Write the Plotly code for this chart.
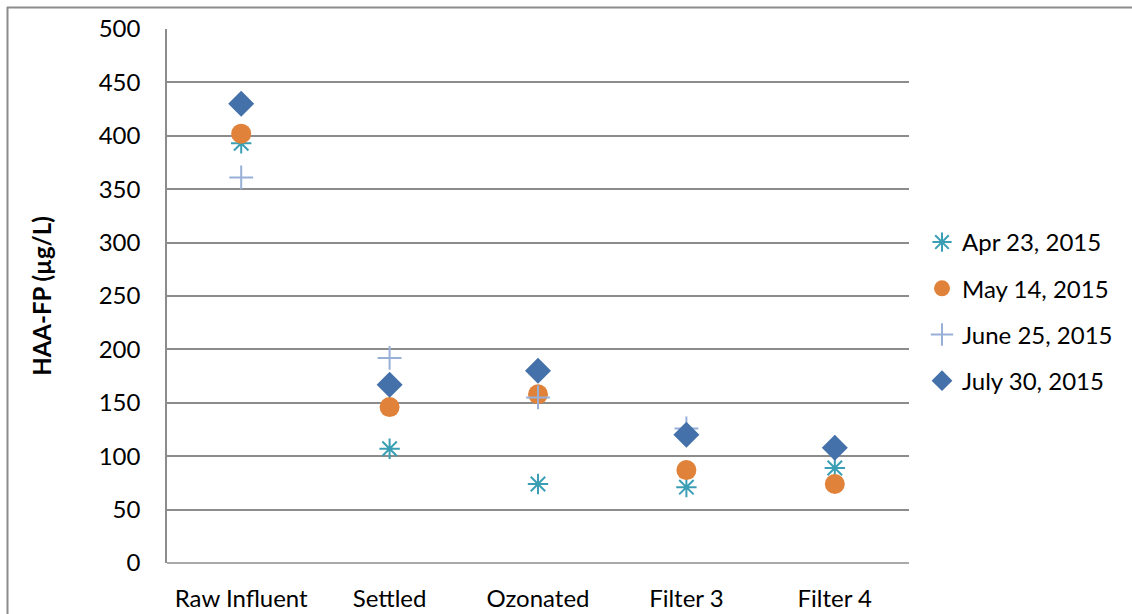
import plotly.graph_objects as go

categories = ["Raw Influent", "Settled", "Ozonated", "Filter 3", "Filter 4"]
apr_23 = [393, 107, 74, 71, 89]
may_14 = [402, 146, 158, 87, 74]
jun_25 = [361, 192, 155, 126, 108]
jul_30 = [430, 167, 180, 120, 108]
y_ticks = [0, 50, 100, 150, 200, 250, 300, 350, 400, 450, 500]

FONT = "Lato, Liberation Sans, sans-serif"
FS = 24

series = [
    ("Apr 23, 2015", apr_23, dict(symbol="asterisk-open", size=17, color="#3A9FB4", line=dict(width=2, color="#3A9FB4"))),
    ("May 14, 2015", may_14, dict(symbol="circle", size=20, color="#E0823A", line=dict(width=0))),
    ("June 25, 2015", jun_25, dict(symbol="cross-thin-open", size=17, color="#98B0D8", line=dict(width=2, color="#98B0D8"))),
    ("July 30, 2015", jul_30, dict(symbol="diamond", size=20, color="#4471A9", line=dict(width=0))),
]

fig = go.Figure()
for name, vals, marker in series:
    fig.add_trace(go.Scatter(x=categories, y=vals, mode="markers", name=name,
                             marker=marker, legendgroup=name))

W, H = 1132, 614
L, R, T, B = 167, 223, 29, 51
pw, ph = W - L - R, H - T - B

def px_x(p):
    return (p - L) / pw

def px_y(p):
    return (H - B - p) / ph

fig.update_layout(
    width=W, height=H,
    margin=dict(l=L, r=R, t=T, b=B, autoexpand=False),
    paper_bgcolor="white", plot_bgcolor="white",
    font=dict(family=FONT, size=FS, color="#000000"),
    showlegend=True,
    legend=dict(x=px_x(922), y=px_y(220), xanchor="left", yanchor="top",
                font=dict(size=FS, family=FONT), tracegroupgap=12,
                bgcolor="rgba(0,0,0,0)"),
    xaxis=dict(range=[-0.5, 4.5], showgrid=False, zeroline=False, automargin=False,
               showline=False, ticks="outside", ticklen=14, tickcolor="rgba(0,0,0,0)",
               tickfont=dict(size=FS, family=FONT)),
    yaxis=dict(range=[0, 500], tickvals=y_ticks, showgrid=True, automargin=False,
               gridcolor="#8C8C8C", gridwidth=1.5, zeroline=False,
               showline=True, linecolor="#8C8C8C", linewidth=1.5,
               ticks="outside", ticklen=20, tickcolor="rgba(0,0,0,0)",
               tickfont=dict(size=FS, family=FONT),
               title=dict(text="<b>HAA-FP (µg/L)</b>", font=dict(size=FS, family=FONT), standoff=40)),
    shapes=[
        dict(type="line", xref="paper", yref="paper", x0=px_x(7), x1=px_x(W + 5), y0=px_y(7.5), y1=px_y(7.5),
             line=dict(color="#8C8C8C", width=2)),
        dict(type="line", xref="paper", yref="paper", x0=px_x(7.5), x1=px_x(7.5), y0=px_y(7), y1=px_y(H + 5),
             line=dict(color="#8C8C8C", width=2)),
        dict(type="line", xref="paper", yref="paper", x0=0, x1=1, y0=0, y1=0,
             line=dict(color="#8C8C8C", width=1.5)),
    ],
)

fig.write_html("out.html")
